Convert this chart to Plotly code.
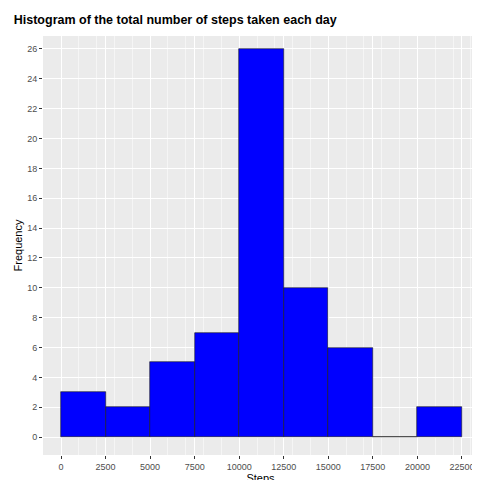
import plotly.graph_objects as go

bin_starts = [0, 2500, 5000, 7500, 10000, 12500, 15000, 17500, 20000]
counts = [3, 2, 5, 7, 26, 10, 6, 0, 2]
bin_width = 2500
x_ticks = [0, 2500, 5000, 7500, 10000, 12500, 15000, 17500, 20000, 22500]
y_ticks = list(range(0, 27, 2))

fig = go.Figure(go.Bar(
    x=[s + bin_width / 2 for s in bin_starts], y=counts, width=bin_width,
    marker=dict(color="#0000FF", line=dict(color="#1a1a1a", width=0.6)),
))
axis_common = dict(showgrid=True, gridcolor="white", gridwidth=1.2,
                   ticks="outside", ticklen=3, tickcolor="#333333",
                   tickfont=dict(size=9, color="#4D4D4D"), zeroline=False,
                   automargin=False,
                   minor=dict(showgrid=True, gridcolor="#F5F5F5", gridwidth=0.6))
fig.update_xaxes(range=[-1010, 23400], tickvals=x_ticks,
                 ticktext=[str(v) for v in x_ticks],
                 title=dict(text="Steps", font=dict(size=11, color="black"), standoff=2),
                 **axis_common)
fig.update_yaxes(range=[-1.2, 26.87], tickvals=y_ticks,
                 ticktext=[str(v) for v in y_ticks],
                 title=dict(text="Frequency", font=dict(size=11, color="black"), standoff=2),
                 **axis_common)
fig.update_layout(
    width=480, height=480, paper_bgcolor="white", plot_bgcolor="#EBEBEB",
    margin=dict(l=35, r=10, t=28, b=33),
    font=dict(family="Liberation Sans, Arial, sans-serif"),
    title=dict(text="<b>Histogram of the total number of steps taken each day</b>",
               x=0.012, xanchor="left", y=0.985, yanchor="top",
               font=dict(size=12.5, color="black")),
    showlegend=False, bargap=0,
)
fig.write_html("out.html")
